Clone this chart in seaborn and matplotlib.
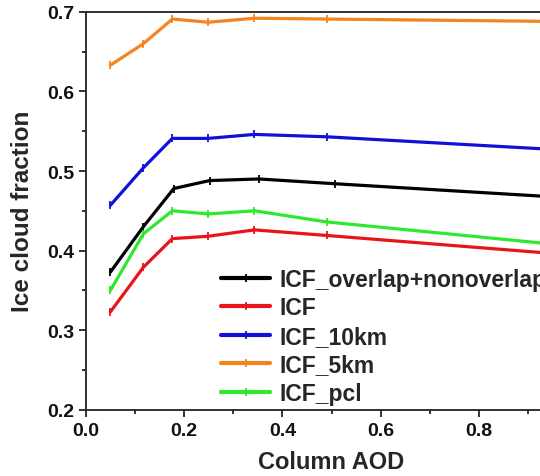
import matplotlib
matplotlib.use("Agg")
import matplotlib.pyplot as plt
import seaborn as sns
import pandas as pd
from matplotlib.ticker import MultipleLocator, FixedLocator

series_names = ["ICF_overlap+nonoverlap", "ICF", "ICF_10km", "ICF_5km", "ICF_pcl"]
colors = ["#000000", "#e8141a", "#1010d8", "#f4841e", "#2ee82e"]

aod_common = [0.050, 0.117, 0.176, 0.249, 0.343, 0.490, 1.10]
aod_black = [0.050, 0.117, 0.179, 0.252, 0.352, 0.507, 1.10]

icf_overlap = [0.373, 0.430, 0.478, 0.488, 0.490, 0.484, 0.462]
icf = [0.323, 0.379, 0.415, 0.418, 0.426, 0.419, 0.389]
icf_10km = [0.457, 0.504, 0.541, 0.541, 0.546, 0.543, 0.522]
icf_5km = [0.633, 0.660, 0.691, 0.687, 0.692, 0.691, 0.687]
icf_pcl = [0.350, 0.421, 0.450, 0.446, 0.450, 0.436, 0.399]

x_tick_labels = ["0.0", "0.2", "0.4", "0.6", "0.8"]

values = [icf_overlap, icf, icf_10km, icf_5km, icf_pcl]
xs = [aod_black, aod_common, aod_common, aod_common, aod_common]

rows = []
for name, x, y in zip(series_names, xs, values):
    for xi, yi in zip(x, y):
        rows.append({"AOD": xi, "ICF": yi, "series": name})
df = pd.DataFrame(rows)

sns.set_style("ticks")
plt.rcParams["font.family"] = ["Liberation Sans", "DejaVu Sans"]
plt.rcParams["font.weight"] = "bold"

fig = plt.figure(figsize=(5.4, 4.77), dpi=100)
ax = fig.add_axes([0.159, 0.139, 0.910, 0.834])

sns.lineplot(data=df, x="AOD", y="ICF", hue="series", hue_order=series_names,
             palette=colors, marker="|", markersize=6, markeredgewidth=1.3,
             linewidth=2.3, sort=False, ax=ax, legend=True)
for ln in ax.lines:
    ln.set_markeredgecolor(ln.get_color())

ax.set_xlim(0, 1.0)
ax.set_ylim(0.2, 0.7)
ax.xaxis.set_major_locator(FixedLocator([float(t) for t in x_tick_labels]))
ax.set_xticklabels(x_tick_labels)
ax.xaxis.set_minor_locator(MultipleLocator(0.1))
ax.yaxis.set_major_locator(MultipleLocator(0.1))
ax.yaxis.set_minor_locator(MultipleLocator(0.05))
ax.tick_params(axis="both", which="major", direction="out", length=5, width=1.2,
               labelsize=14, colors="#111111")
ax.tick_params(axis="both", which="minor", direction="out", length=3, width=1.2,
               colors="#111111")
for lab in ax.get_xticklabels() + ax.get_yticklabels():
    lab.set_fontweight("bold")
for sp in ax.spines.values():
    sp.set_linewidth(1.3)
    sp.set_color("#222222")

ax.set_xlabel("Column AOD", fontsize=17, fontweight="bold", labelpad=8)
ax.set_ylabel("Ice cloud fraction", fontsize=17.5, fontweight="bold", labelpad=9)

leg = ax.legend(loc="upper left", bbox_to_anchor=(0.275, 0.357), frameon=False,
                fontsize=16.5, handlelength=2.15, handletextpad=0.4,
                labelspacing=0.24, borderaxespad=0, borderpad=0)
for t in leg.get_texts():
    t.set_fontweight("bold")
for h in leg.legend_handles:
    h.set_linewidth(3)
    h.set_markeredgecolor(h.get_color())

fig.savefig("out.png", dpi=100)
